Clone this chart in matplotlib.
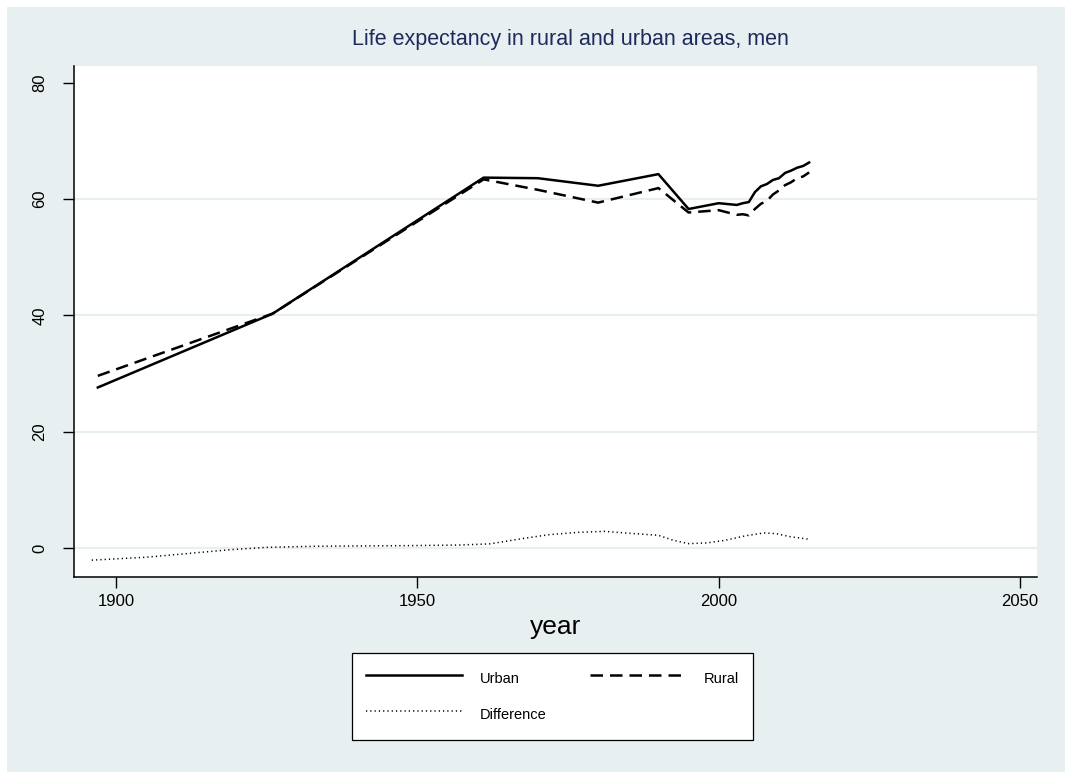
import matplotlib
matplotlib.use('Agg')
import matplotlib.pyplot as plt
from matplotlib.patches import Rectangle

plt.rcParams['font.family'] = ['Liberation Sans', 'DejaVu Sans']

BG = '#e8eff1'
NAVY = '#1c2b5c'

# male life expectancy, census / annual years
years = [1897, 1926, 1961, 1970, 1980, 1990, 1995, 2000, 2003, 2004, 2005,
         2006, 2007, 2008, 2009, 2010, 2011, 2012, 2013, 2014, 2015]
urban = [27.6, 40.3, 63.7, 63.6, 62.3, 64.3, 58.3, 59.3, 59.0, 59.3, 59.5,
         61.2, 62.2, 62.6, 63.3, 63.6, 64.5, 64.9, 65.4, 65.7, 66.3]
rural = [29.6, 40.3, 63.4, 61.6, 59.4, 61.9, 57.7, 58.1, 57.3, 57.4, 57.2,
         58.3, 59.2, 59.7, 60.8, 61.5, 62.4, 62.9, 63.6, 63.9, 64.6]

# smoothed urban - rural gap
diff_years = [1896, 1905, 1913, 1919, 1925, 1933, 1949, 1957, 1962, 1968,
              1972, 1977, 1981, 1986, 1990, 1992.5, 1995, 1998, 2001, 2004.5,
              2007.5, 2009.5, 2012, 2015]
diff = [-2.1, -1.6, -0.86, -0.3, 0.1, 0.29, 0.4, 0.5, 0.7, 1.7,
        2.3, 2.7, 2.85, 2.46, 2.17, 1.3, 0.74, 0.86, 1.3, 2.1,
        2.58, 2.46, 1.9, 1.5]

xticks = [1900, 1950, 2000, 2050]
yticks = [0, 20, 40, 60, 80]

W, H = 1065, 772
fig = plt.figure(figsize=(W / 100, H / 100), dpi=100, facecolor='white')
fig.patches.append(Rectangle((7 / W, 0), 1 - 7 / W, 1 - 7 / H,
                             transform=fig.transFigure, facecolor=BG,
                             edgecolor='none', zorder=-10))

ax = fig.add_axes([74 / W, 1 - 577 / H, (1037 - 74) / W, (577 - 66) / H])
ax.set_facecolor('white')
for y in yticks[:-1]:
    ax.axhline(y, color=BG, lw=1.6, zorder=0)

h1, = ax.plot(years, urban, color='black', lw=1.8, label='Urban')
h2, = ax.plot(years, rural, color='black', lw=1.8, dashes=(5, 2.8), label='Rural')
h3, = ax.plot(diff_years, diff, color='black', lw=1.1, linestyle=(0, (0.8, 2)),
              label='Difference')

ax.set_xlim(1893.05, 2052.8)
ax.set_ylim(-5.0, 82.9)
ax.set_xticks(xticks)
ax.set_yticks(yticks)
ax.tick_params(axis='both', direction='out', length=8, width=1, color='black',
               labelsize=12, labelcolor='black')
ax.tick_params(axis='x', pad=4.5)
ax.tick_params(axis='y', pad=11)
for lab in ax.get_yticklabels():
    lab.set_rotation(90)
    lab.set_va('center')
for s in ['top', 'right']:
    ax.spines[s].set_visible(False)
for s in ['left', 'bottom']:
    ax.spines[s].set_linewidth(1.1)
    ax.spines[s].set_color('black')

ax.set_xlabel('year', fontsize=19, labelpad=4)
fig.text(570 / W, 1 - 40 / H, 'Life expectancy in rural and urban areas, men',
         ha='center', va='center', fontsize=15.5, color=NAVY)

# column-major fill: Urban / Difference in the first column, Rural in the second
leg = fig.legend(handles=[h1, h3, h2], ncol=2, loc='upper left',
                 bbox_to_anchor=(352 / W, 1 - 653 / H), borderaxespad=0,
                 frameon=True, fancybox=False, edgecolor='black',
                 facecolor='white', framealpha=1, fontsize=10.5,
                 handlelength=6.6, handletextpad=1.2, columnspacing=3.0,
                 borderpad=0.95, handleheight=2.0, labelspacing=0.95)
leg.get_frame().set_linewidth(0.9)

fig.savefig('out.png', dpi=100, facecolor=fig.get_facecolor())
